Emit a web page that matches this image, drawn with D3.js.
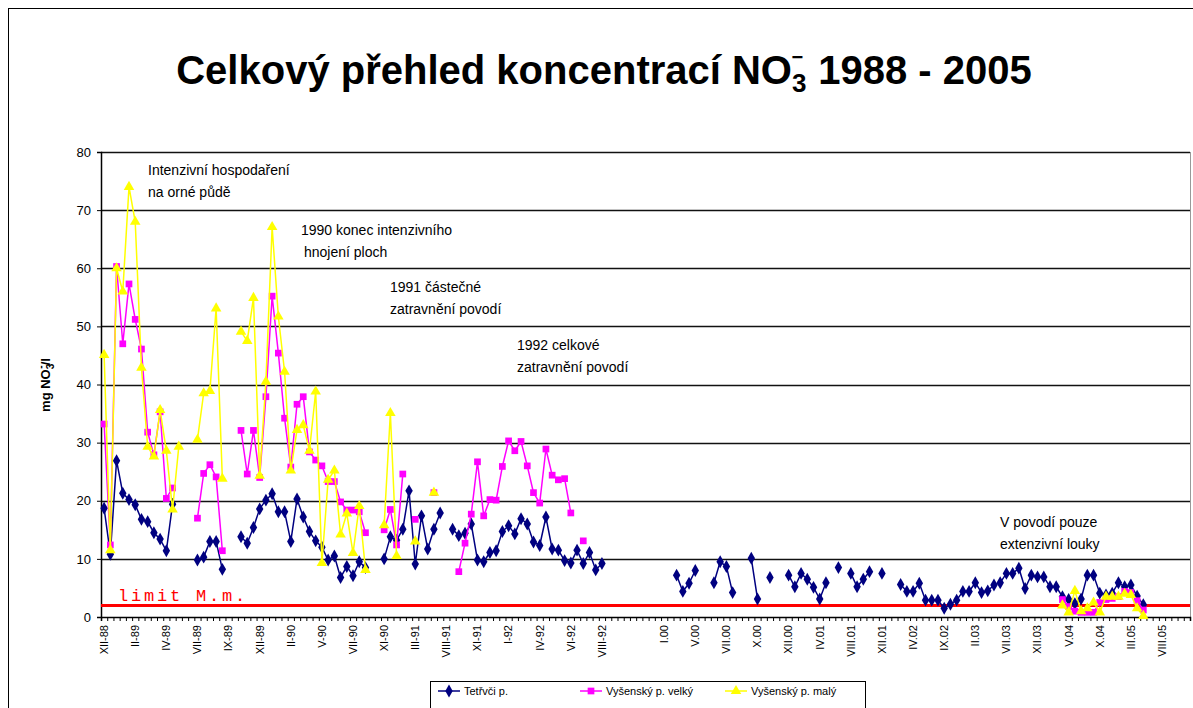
<!DOCTYPE html>
<html>
<head>
<meta charset="utf-8">
<script src="https://cdn.jsdelivr.net/npm/d3@7"></script>
<style>
  body { margin: 0; background: #fff; }
  svg { display: block; font-family: Arial, "Liberation Sans", sans-serif; }
</style>
</head>
<body>
<div id="svgContainer"></div>
<script>
// ---- data, one slot per sampling date ----
var labelsLeft = ["XII-88","II-89","IV-89","VII-89","IX-89","XII-89","II-90","V-90","VII-90",
  "XI-90","III-91","VIII-91","XI-91","I-92","IV-92","VI-92","VIII-92"];
var labelsRight = ["I.00","V.00","VII.00","X.00","XII.00","IV.01","VIII.01","XII.01","IV.02",
  "IX.02","II.03","VII.03","XII.03","V.04","X.04","III.05","VIII.05"];
var tickLabels = labelsLeft.concat([""], labelsRight); // one label every 5 samples
var nCat = 175;

var _ = null;
// Tetřvči p.
var tetrivci = [
  18.7,10.8,26.9,21.3,20.2,19.3,16.8,16.4,14.5,13.4,11.4,19.4,_,_,_,
  9.8,10.3,13.0,13.0,8.2,_,_,
  13.8,12.7,15.4,18.6,20.1,21.2,18.1,18.1,13.0,20.3,17.2,14.7,13.1,12.0,9.8,10.5,6.8,8.7,7.1,9.5,8.5,_,_,
  10.0,13.8,13.2,15.1,21.7,9.1,17.4,11.7,15.1,17.9,_,
  15.1,14.0,14.4,16.0,9.8,9.5,11.1,11.4,14.7,15.7,14.3,16.9,16.0,12.9,12.3,17.2,11.7,11.5,9.7,9.3,11.5,9.2,11.1,8.1,9.2,
  _,_,_,_,_,_,_,_,_,_,_,
  7.2,4.4,5.8,8.0,_,_,5.9,9.5,8.7,4.2,_,_,10.1,3.1,_,6.8,_,_,
  7.2,5.2,7.5,6.5,5.1,3.1,5.9,_,8.5,_,7.5,5.2,6.5,7.8,_,7.5,_,_,
  5.6,4.4,4.4,5.8,2.9,2.9,2.9,1.5,2.2,2.9,4.4,4.4,5.9,4.2,4.5,5.5,5.9,7.5,7.5,8.4,4.9,7.2,6.9,6.9,5.2,5.2,
  3.5,3.0,2.3,3.1,7.2,7.2,4.1,3.8,4.1,5.9,5.2,5.5,3.6,2.1,
  _,_,_,_,_,_,_
];
// Vyšenský p. velký
var vysVelky = [
  33.2,12.4,60.3,47.0,57.3,51.2,46.1,31.8,27.9,35.3,20.4,22.2,_,_,_,
  17.0,24.7,26.2,24.1,11.4,_,_,
  32.1,24.6,32.1,24.0,37.9,55.2,45.4,34.2,25.8,36.6,37.9,28.4,27.0,26.0,23.3,23.3,19.8,18.4,18.4,18.1,14.5,_,_,
  15.0,18.5,12.4,24.6,_,16.8,_,_,21.4,_,_,_,
  7.8,12.7,17.7,26.7,17.4,20.2,20.1,25.9,30.3,28.6,30.2,26.0,21.4,19.6,28.9,24.4,23.6,23.8,17.9,_,13.1
];
// Vyšenský p. malý
var vysMaly = [
  45.1,11.5,60.0,56.0,74.0,68.0,42.9,29.3,27.6,35.6,28.6,18.5,29.3,_,_,
  30.5,38.5,38.9,53.1,23.8,_,_,
  49.1,47.5,54.9,24.3,40.5,67.1,51.7,42.2,25.2,32.2,33.0,28.6,38.8,9.3,23.6,25.2,14.2,17.8,11.0,19.1,8.1,_,_,
  15.8,35.1,10.5,_,_,13.0,_,_,21.4
];
// samples from V.04 on (index 154..167)
var vysVelkyEnd = [3.0,1.8,1.0,0.8,0.8,0.8,2.5,3.0,3.2,3.5,4.4,4.2,2.8,1.2];
var vysMalyEnd  = [2.0,0.8,4.5,1.0,1.5,2.5,0.8,3.5,3.5,3.5,4.0,3.8,1.5,0.2];
var endStart = 154;
var limitValue = 2;
var yTicks = [0,10,20,30,40,50,60,70,80];

function fillSeries(head, tail){
  var arr = new Array(nCat).fill(null);
  head.forEach(function(v,i){ arr[i] = v; });
  tail.forEach(function(v,i){ arr[endStart+i] = v; });
  return arr;
}
var series = [
  {name:"Tetřvči p.", color:"#000080", shape:"diamond", values: fillSeries(tetrivci, [])},
  {name:"Vyšenský p. velký", color:"#ff00ff", shape:"square", values: fillSeries(vysVelky, vysVelkyEnd)},
  {name:"Vyšenský p. malý", color:"#ffff00", shape:"triangle", values: fillSeries(vysMaly, vysMalyEnd)}
];

// ---- drawing ----
var svgWidth = 1193, svgHeight = 708;
var svg = d3.select("#svgContainer").append("svg")
  .attr("width", svgWidth).attr("height", svgHeight);
var plot = {left:101, right:1190, top:152, bottom:617};

svg.append("rect").attr("x",8.5).attr("y",8.5).attr("width",1200).attr("height",720)
  .attr("fill","#fff").attr("stroke","#000");

var x = d3.scaleBand().domain(d3.range(nCat)).range([plot.left, plot.right]).padding(0);
var xb = d3.scaleLinear().domain([0,nCat]).range([plot.left, plot.right]);
var y = d3.scaleLinear().domain([0,80]).range([plot.bottom, plot.top]);
var cx = function(i){ return x(i) + x.bandwidth()/2; };

// gridlines
svg.append("g").selectAll("line").data(yTicks.slice(1)).enter().append("line")
  .attr("x1",plot.left).attr("x2",plot.right)
  .attr("y1",function(d){return Math.round(y(d))+0.5;}).attr("y2",function(d){return Math.round(y(d))+0.5;})
  .attr("stroke","#111").attr("stroke-width",1.5);
svg.append("line").attr("x1",plot.right+0.5).attr("x2",plot.right+0.5)
  .attr("y1",plot.top).attr("y2",plot.bottom).attr("stroke","#999");

// axes
var yAxis = svg.append("g").attr("transform","translate("+plot.left+",0)")
  .call(d3.axisLeft(y).tickValues(yTicks).tickSize(4).tickPadding(6));
yAxis.selectAll("text").attr("font-size",13).attr("font-family","Arial, 'Liberation Sans', sans-serif").attr("fill","#000");
yAxis.select(".domain").attr("stroke","#000").attr("stroke-width",1.5);

var xTicks = svg.append("g").attr("transform","translate(0,"+plot.bottom+")")
  .call(d3.axisBottom(xb).tickValues(d3.range(nCat+1)).tickSize(4).tickFormat(""));
xTicks.select(".domain").attr("stroke","#000").attr("stroke-width",1.5);

var labelIdx = d3.range(tickLabels.length).map(function(k){ return k*5; });
var xLab = svg.append("g").attr("transform","translate(0,"+plot.bottom+")")
  .call(d3.axisBottom(x).tickValues(labelIdx).tickSize(0).tickFormat(function(d){ return tickLabels[d/5]; }));
xLab.select(".domain").remove();
xLab.selectAll("text")
  .attr("font-size",11).attr("font-family","Arial, 'Liberation Sans', sans-serif").attr("fill","#000")
  .attr("text-anchor","end").attr("dy","0.35em")
  .attr("transform","translate(0,8) rotate(-90)").attr("y",0).attr("x",0);

// limit line
svg.append("line").attr("x1",plot.left).attr("x2",plot.right)
  .attr("y1",y(limitValue)).attr("y2",y(limitValue))
  .attr("stroke","#ff0000").attr("stroke-width",3);
svg.append("text").attr("x",118).attr("y",601)
  .attr("font-family","'Liberation Mono', 'Courier New', monospace").attr("font-size",17)
  .attr("letter-spacing","2.8px").attr("fill","#ff0000").text("limit M.m.");

// series
var line = d3.line().defined(function(d){ return d.v !== null; })
  .x(function(d){ return cx(d.i); }).y(function(d){ return y(d.v); });
var shapes = {diamond: d3.symbolDiamond, square: d3.symbolSquare, triangle: d3.symbolTriangle};
var sizes = {diamond: 48, square: 45, triangle: 48};

series.forEach(function(s){
  var pts = s.values.map(function(v,i){ return {i:i, v:v}; });
  var g = svg.append("g");
  g.append("path").datum(pts).attr("d", line)
    .attr("fill","none").attr("stroke", s.color).attr("stroke-width",1.5);
  g.selectAll("path.m").data(pts.filter(function(d){ return d.v !== null; })).enter()
    .append("path").attr("class","m")
    .attr("d", d3.symbol().type(shapes[s.shape]).size(sizes[s.shape]))
    .attr("transform", function(d){ return "translate("+cx(d.i)+","+y(d.v)+")"; })
    .attr("fill", s.color);
});

// title
var title = svg.append("text").attr("x",604).attr("y",84).attr("text-anchor","middle")
  .attr("font-size",40).attr("font-weight","bold").attr("fill","#000");
title.append("tspan").text("Celkový přehled koncentrací NO");
title.append("tspan").attr("font-size",26).attr("dy",8).text("3");
title.append("tspan").attr("font-size",20).attr("dx",-15).attr("dy",-28).text("−");
title.append("tspan").attr("dx",4).attr("dy",20).text(" 1988 - 2005");

// y label
var yl = svg.append("text").attr("transform","translate(50,385) rotate(-90)")
  .attr("text-anchor","middle").attr("font-size",13).attr("font-weight","bold");
yl.append("tspan").text("mg NO");
yl.append("tspan").attr("font-size",10).attr("dy",4).text("3");
yl.append("tspan").attr("font-size",10).attr("dx",-5).attr("dy",-10).text("-");
yl.append("tspan").attr("dy",6).text("/l");

// annotations
var notes = [
  {x:148, y:175, t:"Intenzivní hospodaření"}, {x:148, y:197, t:"na orné půdě"},
  {x:301, y:235, t:"1990 konec intenzivního"}, {x:304, y:257, t:"hnojení ploch"},
  {x:390, y:292, t:"1991 částečné"}, {x:390, y:314, t:"zatravnění povodí"},
  {x:517, y:350, t:"1992 celkové"}, {x:517, y:372, t:"zatravnění povodí"},
  {x:1000, y:527, t:"V povodí pouze"}, {x:1000, y:549, t:"extenzivní louky"}
];
svg.append("g").selectAll("text").data(notes).enter().append("text")
  .attr("x",function(d){return d.x;}).attr("y",function(d){return d.y;})
  .attr("font-size",14).attr("fill","#000").text(function(d){return d.t;});

// legend
var lg = svg.append("g").attr("transform","translate(430,681)");
lg.append("rect").attr("x",0.5).attr("y",0.5).attr("width",435).attr("height",30)
  .attr("fill","#fff").attr("stroke","#000");
var legX = [8, 150, 295];
series.forEach(function(s,i){
  var gi = lg.append("g").attr("transform","translate("+legX[i]+",10)");
  gi.append("line").attr("x1",0).attr("x2",22).attr("y1",0).attr("y2",0)
    .attr("stroke",s.color).attr("stroke-width",1.5);
  gi.append("path").attr("d", d3.symbol().type(shapes[s.shape]).size(sizes[s.shape]))
    .attr("transform","translate(11,0)").attr("fill",s.color);
  gi.append("text").attr("x",26).attr("y",4).attr("font-size",11).text(s.name);
});
</script>
</body>
</html>
